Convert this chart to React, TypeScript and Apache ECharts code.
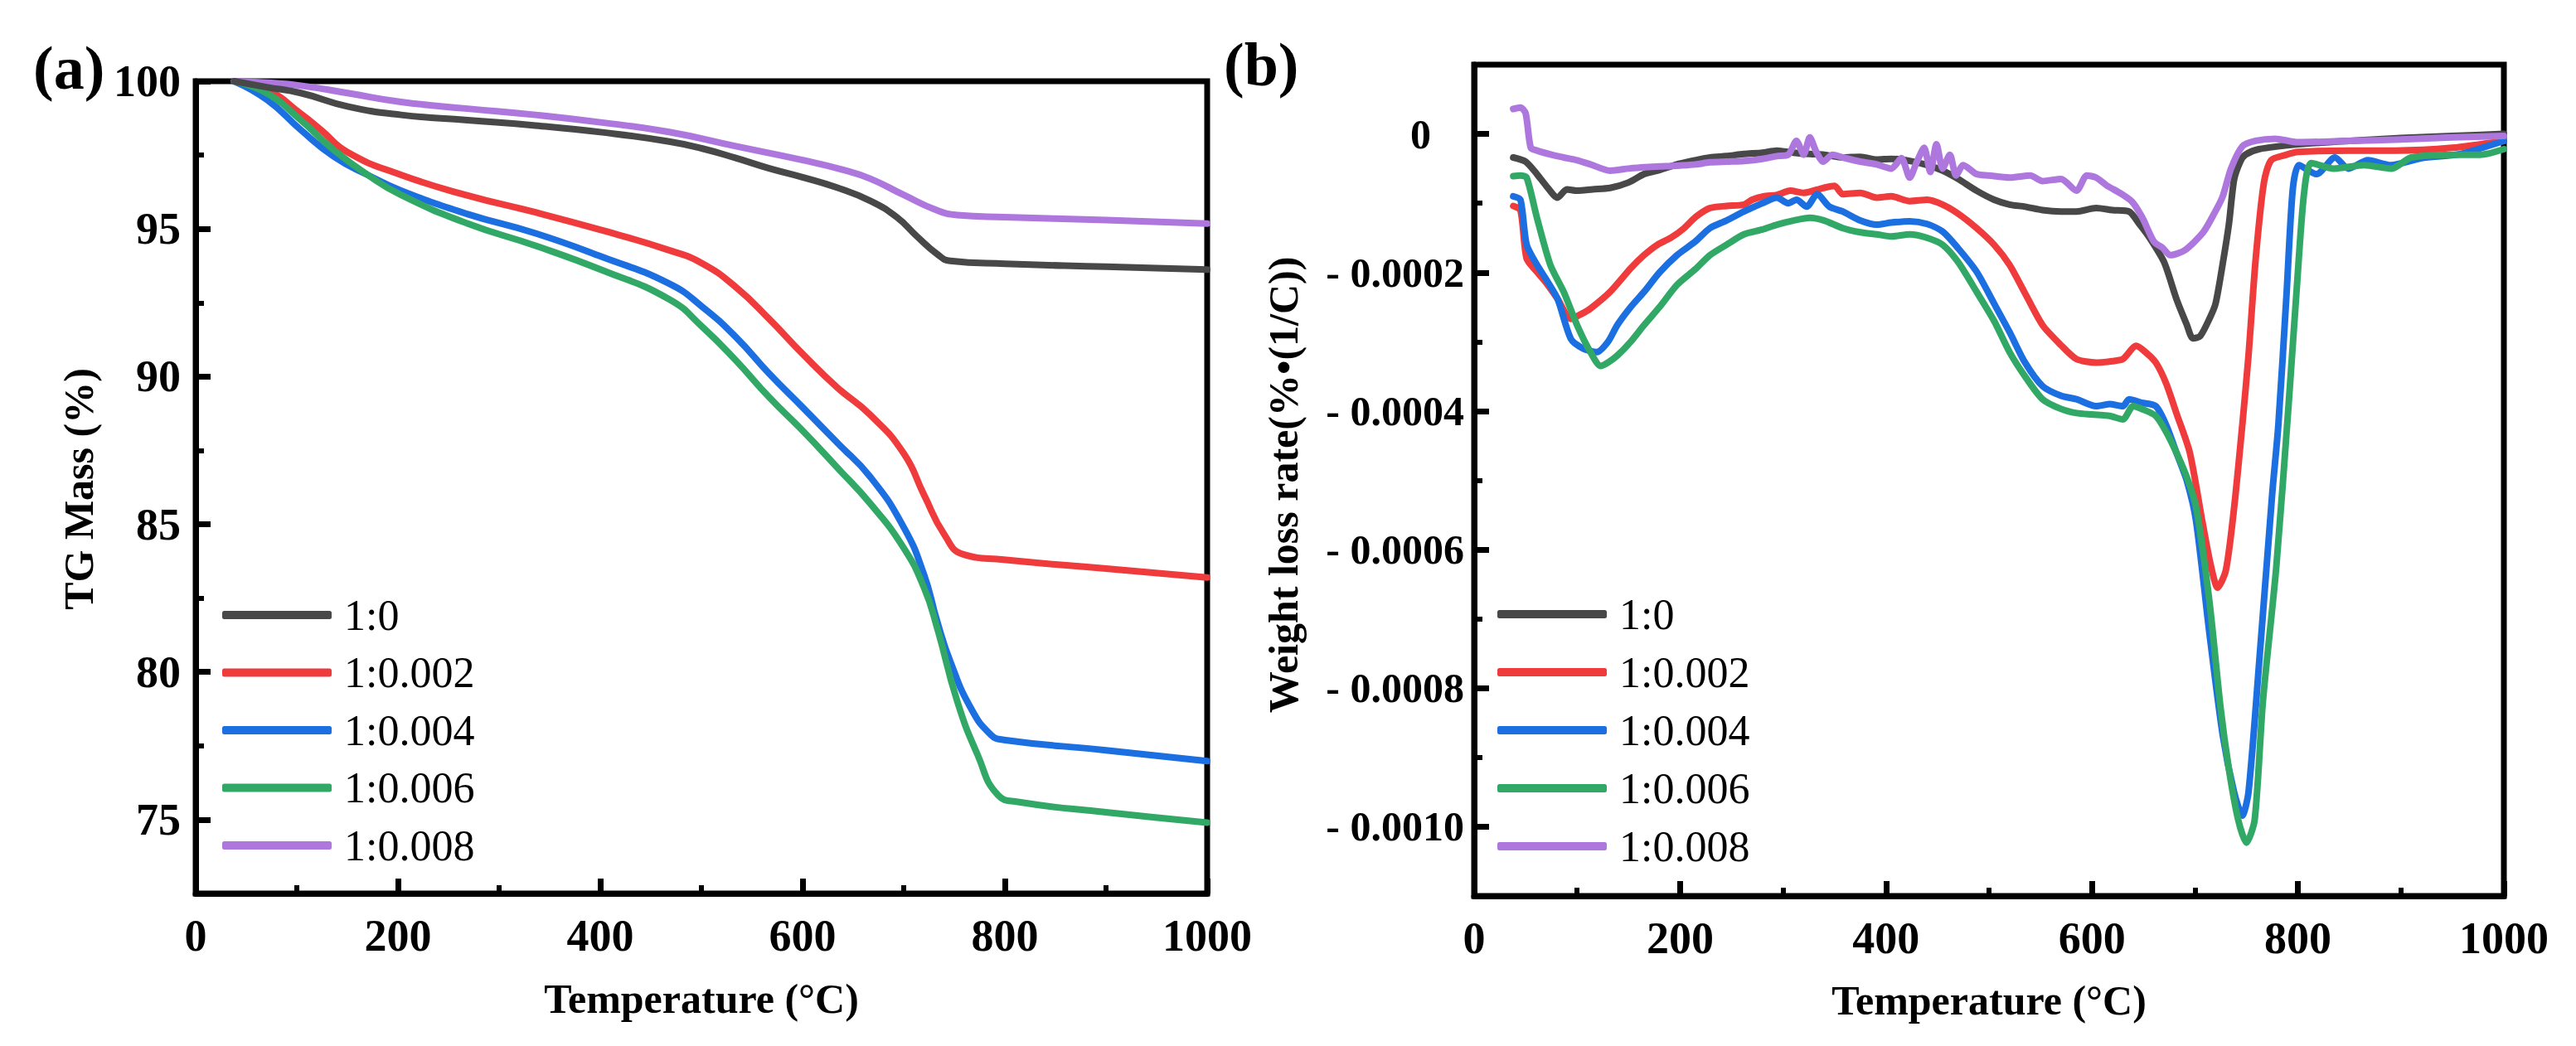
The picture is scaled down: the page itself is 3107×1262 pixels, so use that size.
import React, { useEffect, useRef } from 'react';
import * as echarts from 'echarts';

const FONT = 'Liberation Serif';

const seriesNames = ['1:0', '1:0.002', '1:0.004', '1:0.006', '1:0.008'];
const seriesColors = ['#484848', '#EF3B3B', '#1B6FE0', '#32A866', '#AE77DE'];

// ---------- Panel (a): TG mass (%) ----------
const tgT_0 = [38, 70, 104, 150, 203, 269, 336, 402, 468, 501, 534, 567, 600, 634, 667, 693, 713, 733, 746, 800, 900, 1000];
const tgV_0 = [100, 99.8, 99.6, 99.15, 98.86, 98.68, 98.5, 98.27, 97.96, 97.72, 97.4, 97.05, 96.75, 96.4, 95.95, 95.4, 94.75, 94.15, 93.92, 93.82, 93.72, 93.62];

const tgT_002 = [38, 71, 104, 124, 150, 203, 269, 336, 402, 468, 501, 534, 567, 600, 634, 667, 700, 720, 740, 759, 799, 900, 1000];
const tgV_002 = [100, 99.7, 98.9, 98.35, 97.6, 96.83, 96.13, 95.56, 94.95, 94.28, 93.83, 93.03, 91.95, 90.77, 89.64, 88.7, 87.4, 86.0, 84.66, 83.98, 83.8, 83.5, 83.2];

const tgT_004 = [38, 71, 104, 137, 170, 203, 269, 336, 402, 468, 501, 534, 567, 600, 634, 667, 700, 720, 733, 746, 766, 786, 799, 900, 1000];
const tgV_004 = [100, 99.36, 98.35, 97.44, 96.83, 96.3, 95.5, 94.85, 94.05, 93.15, 92.36, 91.34, 90.1, 88.96, 87.77, 86.6, 84.9, 83.3, 81.72, 80.36, 78.8, 77.88, 77.7, 77.35, 76.98];

const tgT_006 = [38, 71, 104, 137, 170, 203, 269, 336, 402, 468, 501, 534, 567, 600, 634, 667, 700, 720, 733, 753, 773, 793, 813, 900, 1000];
const tgV_006 = [100, 99.58, 98.68, 97.66, 96.83, 96.15, 95.18, 94.43, 93.6, 92.62, 91.68, 90.55, 89.3, 88.17, 86.93, 85.7, 84.2, 82.86, 81.5, 79.0, 77.2, 75.84, 75.6, 75.25, 74.9];

const tgT_008 = [38, 70, 104, 150, 203, 269, 336, 402, 468, 534, 600, 640, 667, 700, 733, 753, 800, 900, 1000];
const tgV_008 = [100, 99.95, 99.85, 99.6, 99.3, 99.07, 98.86, 98.6, 98.28, 97.8, 97.33, 97.0, 96.7, 96.15, 95.63, 95.47, 95.4, 95.3, 95.18];

// ---------- Panel (b): weight loss rate, values in units of 1e-4 %/°C ----------
const RATE_UNIT = 1e-4;

const dtgT_0 = [38, 50, 61, 70, 81, 90, 100, 115, 132, 150, 165, 180, 197, 215, 229, 245, 262, 280, 294, 310, 326, 340, 358, 375, 391, 405, 423, 440, 455, 470, 488, 505, 520, 535, 552, 570, 585, 604, 620, 636, 646, 656, 670, 682, 692, 698, 705, 714, 720, 727, 733, 738, 744, 749, 762, 800, 850, 900, 950, 1000];
const dtgV_0 = [-0.34, -0.4, -0.58, -0.75, -0.92, -0.8, -0.82, -0.8, -0.78, -0.7, -0.58, -0.52, -0.44, -0.38, -0.34, -0.32, -0.29, -0.27, -0.24, -0.27, -0.29, -0.3, -0.34, -0.33, -0.37, -0.36, -0.39, -0.45, -0.53, -0.65, -0.82, -0.95, -1.02, -1.05, -1.1, -1.12, -1.12, -1.07, -1.1, -1.12, -1.3, -1.5, -1.85, -2.38, -2.75, -2.95, -2.92, -2.67, -2.45, -1.87, -1.3, -0.66, -0.4, -0.3, -0.22, -0.15, -0.1, -0.06, -0.03, 0.0];

const dtgT_002 = [38, 45, 51, 61, 70, 81, 94, 104, 113, 132, 152, 165, 178, 191, 204, 215, 229, 245, 262, 270, 281, 294, 307, 320, 339, 350, 358, 375, 391, 405, 423, 440, 455, 470, 488, 505, 520, 535, 552, 570, 585, 604, 620, 630, 643, 652, 662, 672, 682, 695, 707, 715, 722, 730, 738, 746, 752, 759, 767, 774, 789, 800, 850, 895, 950, 1000];
const dtgV_002 = [-1.04, -1.1, -1.8, -1.99, -2.15, -2.38, -2.67, -2.6, -2.52, -2.28, -1.94, -1.75, -1.6, -1.5, -1.36, -1.2, -1.07, -1.04, -1.02, -0.95, -0.9, -0.88, -0.82, -0.85, -0.78, -0.75, -0.87, -0.85, -0.92, -0.9, -0.97, -0.95, -1.02, -1.15, -1.36, -1.6, -1.89, -2.3, -2.76, -3.05, -3.25, -3.3, -3.28, -3.25, -3.06, -3.15, -3.3, -3.6, -4.03, -4.6, -5.58, -6.2, -6.55, -6.3, -5.4, -4.2, -3.2, -1.8, -0.7, -0.38, -0.3, -0.26, -0.24, -0.24, -0.2, -0.1];

const dtgT_004 = [38, 45, 51, 61, 70, 81, 94, 106, 119, 130, 139, 152, 165, 180, 197, 215, 229, 245, 262, 280, 294, 305, 313, 323, 333, 345, 358, 375, 391, 405, 423, 440, 455, 470, 488, 505, 520, 535, 552, 570, 585, 604, 617, 630, 636, 648, 662, 672, 682, 692, 701, 714, 727, 738, 746, 752, 762, 775, 781, 789, 795, 801, 818, 836, 849, 868, 890, 920, 957, 1000];
const dtgV_004 = [-0.9, -0.95, -1.6, -1.89, -2.1, -2.38, -2.96, -3.1, -3.15, -3.0, -2.76, -2.5, -2.28, -2.0, -1.75, -1.55, -1.36, -1.25, -1.12, -1.0, -0.92, -1.0, -0.95, -1.05, -0.87, -1.05, -1.12, -1.25, -1.31, -1.28, -1.26, -1.3, -1.41, -1.65, -1.99, -2.45, -2.86, -3.3, -3.64, -3.78, -3.83, -3.93, -3.9, -3.93, -3.83, -3.88, -3.93, -4.2, -4.6, -5.0, -5.58, -7.2, -8.68, -9.5, -9.84, -9.5, -7.7, -5.2, -4.2, -2.3, -0.8, -0.45, -0.58, -0.34, -0.5, -0.38, -0.45, -0.35, -0.29, -0.1];

const dtgT_006 = [38, 45, 51, 61, 74, 87, 100, 113, 123, 130, 139, 152, 165, 180, 197, 215, 229, 245, 262, 280, 294, 310, 326, 340, 358, 375, 391, 405, 423, 440, 455, 470, 488, 505, 520, 535, 552, 570, 585, 600, 617, 630, 640, 650, 662, 672, 682, 692, 701, 714, 725, 733, 742, 750, 758, 766, 779, 791, 799, 806, 813, 835, 864, 891, 910, 957, 977, 1000];
const dtgV_006 = [-0.61, -0.6, -0.63, -1.21, -1.89, -2.28, -2.76, -3.15, -3.35, -3.3, -3.2, -3.0, -2.76, -2.5, -2.18, -1.95, -1.75, -1.6, -1.45, -1.38, -1.31, -1.25, -1.21, -1.25, -1.36, -1.42, -1.45, -1.48, -1.45, -1.5, -1.6, -1.85, -2.28, -2.7, -3.15, -3.5, -3.83, -3.97, -4.03, -4.05, -4.07, -4.12, -3.93, -3.98, -4.07, -4.3, -4.6, -4.95, -5.38, -6.74, -8.3, -9.17, -9.9, -10.23, -9.9, -8.19, -6.25, -3.9, -2.2, -0.85, -0.42, -0.5, -0.45, -0.5, -0.34, -0.3, -0.3, -0.22];

const dtgT_008 = [38, 45, 50, 55, 61, 75, 87, 100, 113, 132, 150, 165, 180, 197, 215, 229, 245, 262, 280, 294, 305, 313, 320, 326, 332, 339, 348, 358, 375, 391, 405, 415, 423, 430, 437, 443, 449, 455, 462, 468, 475, 488, 500, 520, 540, 552, 570, 585, 595, 604, 615, 628, 639, 649, 660, 669, 676, 690, 708, 719, 727, 735, 746, 759, 778, 800, 850, 900, 950, 1000];
const dtgV_008 = [0.36, 0.38, 0.3, -0.2, -0.24, -0.3, -0.34, -0.38, -0.44, -0.53, -0.5, -0.48, -0.47, -0.46, -0.44, -0.41, -0.4, -0.39, -0.36, -0.32, -0.3, -0.1, -0.3, -0.05, -0.25, -0.4, -0.3, -0.34, -0.4, -0.44, -0.5, -0.35, -0.63, -0.4, -0.2, -0.55, -0.15, -0.5, -0.3, -0.6, -0.45, -0.58, -0.6, -0.63, -0.6, -0.68, -0.65, -0.82, -0.6, -0.63, -0.75, -0.86, -0.98, -1.21, -1.55, -1.65, -1.75, -1.68, -1.42, -1.14, -0.9, -0.5, -0.18, -0.1, -0.07, -0.12, -0.1, -0.08, -0.05, -0.03];

// ---------- axis ticks ----------
const tgMajorTicks = [75, 80, 85, 90, 95, 100];
const tgMinorTicks = [77.5, 82.5, 87.5, 92.5, 97.5];
const rateMajorTicks = [0, -0.0002, -0.0004, -0.0006, -0.0008, -0.001];
const rateMinorTicks = [-0.0001, -0.0003, -0.0005, -0.0007, -0.0009];

const tgSeries = [
  [tgT_0, tgV_0],
  [tgT_002, tgV_002],
  [tgT_004, tgV_004],
  [tgT_006, tgV_006],
  [tgT_008, tgV_008],
];
const dtgSeries = [
  [dtgT_0, dtgV_0],
  [dtgT_002, dtgV_002],
  [dtgT_004, dtgV_004],
  [dtgT_006, dtgV_006],
  [dtgT_008, dtgV_008],
];

const zip = (xs: number[], ys: number[], scale = 1) => xs.map((x, i) => [x, ys[i] * scale]);

function buildOption() {
  const lineAxis = { show: true, onZero: false, lineStyle: { color: '#000', width: 7 } };
  const majorTick = (length: number, customValues?: number[]) => ({
    show: true,
    inside: true,
    length,
    lineStyle: { color: '#000', width: 7 },
    ...(customValues ? { customValues } : {}),
  });
  const xAxisBase = (gridIndex: number) => ({
    type: 'value',
    gridIndex,
    min: 0,
    max: 1000,
    interval: 200,
    axisLine: lineAxis,
    axisTick: majorTick(18),
    minorTick: { show: true, splitNumber: 2, length: 10, lineStyle: { color: '#000', width: 6 } },
    splitLine: { show: false },
    minorSplitLine: { show: false },
    axisLabel: {
      fontSize: 54,
      fontWeight: 'bold',
      color: '#000',
      fontFamily: FONT,
      margin: 24,
      formatter: (v: number) => String(v),
    },
  });

  const series: any[] = [];
  tgSeries.forEach(([xs, ys], i) => {
    series.push({
      type: 'line',
      name: seriesNames[i],
      xAxisIndex: 0,
      yAxisIndex: 0,
      data: zip(xs, ys),
      symbol: 'none',
      showSymbol: false,
      smooth: 0.5,
      color: seriesColors[i],
      itemStyle: { color: seriesColors[i] },
      lineStyle: { width: 8, color: seriesColors[i], cap: 'round', join: 'round' },
      z: 2 + (i === 0 ? 1 : 0),
    });
  });
  dtgSeries.forEach(([xs, ys], i) => {
    series.push({
      type: 'line',
      name: seriesNames[i],
      xAxisIndex: 1,
      yAxisIndex: 2,
      data: zip(xs, ys, RATE_UNIT),
      symbol: 'none',
      showSymbol: false,
      smooth: 0.25,
      color: seriesColors[i],
      itemStyle: { color: seriesColors[i] },
      lineStyle: { width: 8, color: seriesColors[i], cap: 'round', join: 'round' },
      z: 2,
    });
  });

  const legendBase = {
    orient: 'vertical',
    data: seriesNames.map((n) => ({ name: n, icon: 'roundRect' })),
    itemWidth: 132,
    itemHeight: 10,
    itemGap: 17.5,
    padding: 0,
    selectedMode: false,
    textStyle: {
      fontSize: 52,
      lineHeight: 52,
      color: '#000',
      fontFamily: FONT,
      fontWeight: 'normal',
      padding: [0, 0, 0, 10],
    },
  };

  const rateLabel = (v: number) => {
    if (Math.abs(v) < 1e-12) return '{z|0}';
    return '- ' + Math.abs(v).toFixed(4);
  };

  const titleStyle = (text: string) => ({
    text,
    fontSize: 50,
    fontWeight: 'bold',
    fontFamily: FONT,
    fill: '#000',
    align: 'center',
    verticalAlign: 'middle',
    textAlign: 'center',
    textVerticalAlign: 'middle',
  });

  return {
    animation: false,
    backgroundColor: '#fff',
    textStyle: { fontFamily: FONT },
    grid: [
      { left: 236, top: 98, width: 1220, height: 980, show: true, borderColor: '#000', borderWidth: 7, containLabel: false },
      { left: 1778, top: 78, width: 1242, height: 1003, show: true, borderColor: '#000', borderWidth: 7, containLabel: false },
    ],
    xAxis: [xAxisBase(0), xAxisBase(1)],
    yAxis: [
      {
        type: 'value',
        gridIndex: 0,
        position: 'left',
        min: 72.5,
        max: 100,
        axisLine: lineAxis,
        axisTick: majorTick(18, tgMajorTicks),
        splitLine: { show: false },
        axisLabel: {
          customValues: tgMajorTicks,
          fontSize: 54,
          fontWeight: 'bold',
          color: '#000',
          fontFamily: FONT,
          margin: 18,
        },
      },
      {
        type: 'value',
        gridIndex: 0,
        position: 'left',
        min: 72.5,
        max: 100,
        axisLine: { show: false },
        axisTick: { show: true, inside: true, length: 10, lineStyle: { color: '#000', width: 6 }, customValues: tgMinorTicks },
        axisLabel: { show: false },
        splitLine: { show: false },
      },
      {
        type: 'value',
        gridIndex: 1,
        position: 'left',
        min: -0.0011,
        max: 0.0001,
        axisLine: lineAxis,
        axisTick: majorTick(18, rateMajorTicks),
        splitLine: { show: false },
        axisLabel: {
          customValues: rateMajorTicks,
          formatter: rateLabel,
          fontSize: 50,
          fontWeight: 'bold',
          color: '#000',
          fontFamily: FONT,
          margin: 12,
          rich: {
            z: { fontSize: 50, fontWeight: 'bold', color: '#000', fontFamily: FONT, padding: [0, 40, 0, 0] },
          },
        },
      },
      {
        type: 'value',
        gridIndex: 1,
        position: 'left',
        min: -0.0011,
        max: 0.0001,
        axisLine: { show: false },
        axisTick: { show: true, inside: true, length: 10, lineStyle: { color: '#000', width: 6 }, customValues: rateMinorTicks },
        axisLabel: { show: false },
        splitLine: { show: false },
      },
    ],
    legend: [
      { ...legendBase, left: 268, top: 716 },
      { ...legendBase, left: 1806, top: 715, itemGap: 18 },
    ],
    graphic: [
      {
        type: 'text', x: 40, y: 82,
        style: { ...titleStyle('(a)'), fontSize: 74, align: 'left', textAlign: 'left' },
      },
      {
        type: 'text', x: 1476, y: 78,
        style: { ...titleStyle('(b)'), fontSize: 74, align: 'left', textAlign: 'left' },
      },
      { type: 'text', x: 95, y: 590, rotation: Math.PI / 2, style: titleStyle('TG Mass (%)') },
      { type: 'text', x: 846, y: 1205, style: titleStyle('Temperature (°C)') },
      { type: 'text', x: 1548, y: 585, rotation: Math.PI / 2, style: titleStyle('Weight loss rate(%•(1/C))') },
      { type: 'text', x: 2399, y: 1207, style: titleStyle('Temperature (°C)') },
    ],
    series,
  };
}

export default function App() {
  const ref = useRef<HTMLDivElement>(null);
  useEffect(() => {
    document.body.style.margin = '0';
    const el = ref.current;
    if (!el) return;
    const chart = echarts.init(el, undefined, { renderer: 'svg' });
    chart.setOption(buildOption() as any);
    return () => {
      chart.dispose();
    };
  }, []);
  return (
    <div
      ref={ref}
      style={{ position: 'absolute', left: 0, top: 0, width: 3107, height: 1262, background: '#fff' }}
    />
  );
}
